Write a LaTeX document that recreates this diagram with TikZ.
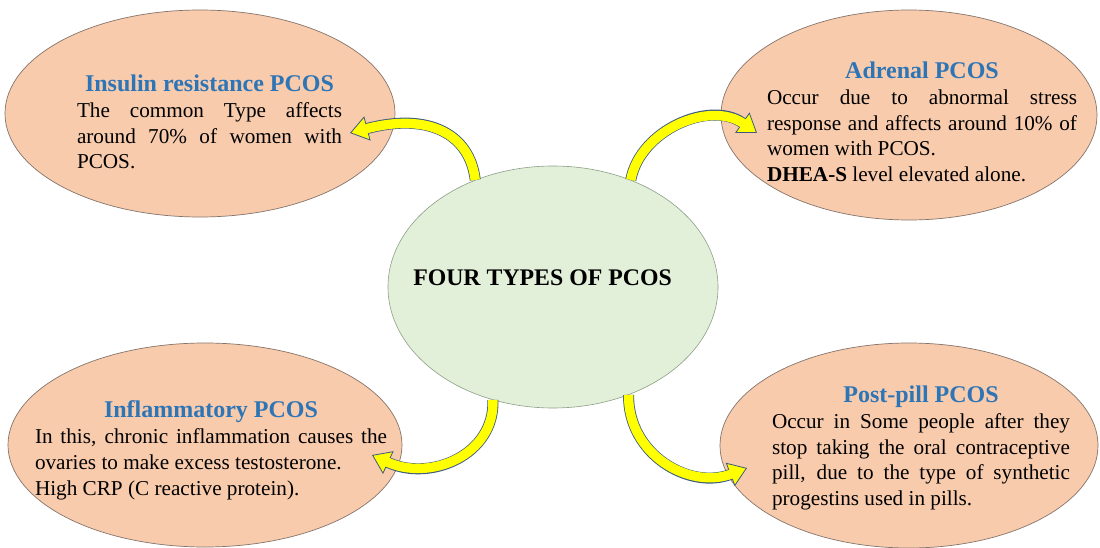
\documentclass[tikz,border=0pt]{standalone}
\usepackage{fontspec}
\setmainfont{Liberation Serif}
\usetikzlibrary{shapes.geometric,arrows.meta}
\definecolor{typefill}{HTML}{F8CBAD}
\definecolor{typeline}{HTML}{85746A}
\definecolor{corefill}{HTML}{E2F0D9}
\definecolor{coreline}{HTML}{8E9E88}
\definecolor{headblue}{HTML}{2E75B6}
\definecolor{arrowfill}{HTML}{FFFF00}
\definecolor{arrowline}{HTML}{3C5A80}
\tolerance=9999
\hbadness=10000
\newcommand{\typehead}[1]{{\centering\color{headblue}\bfseries\fontsize{24}{26}\selectfont #1\par}}
\tikzset{
  type/.style={ellipse, draw=typeline, fill=typefill, line width=0.7pt, inner sep=0pt},
  core/.style={ellipse, draw=coreline, fill=corefill, line width=0.6pt, inner sep=0pt},
  typetext/.style={anchor=north, inner sep=0pt, align=justify, font=\fontsize{21.2}{25.8}\selectfont},
  pcosarrow/.style={line width=11pt, draw=arrowline,
    -{Triangle[length=18pt,width=25pt,line width=0.8pt,fill=arrowfill]}},
  pcosbody/.style={line width=9.4pt, draw=arrowfill, shorten >=16pt}
}
\begin{document}
\begin{tikzpicture}[x=1pt,y=-1pt]
  \useasboundingbox[fill=white] (0,0) rectangle (1100,548);
  % the four types round the centre
  \node[type, minimum width=390pt, minimum height=207pt] (ins) at (200,113.5) {};
  \node[type, minimum width=376pt, minimum height=210pt] (adr) at (909,115) {};
  \node[type, minimum width=394pt, minimum height=204pt] (inf) at (205,445) {};
  \node[type, minimum width=378pt, minimum height=205pt] (pil) at (909,445.5) {};
  \node[core, minimum width=330pt, minimum height=242pt] (cen) at (553,287) {};
  % arrow tips end inside the outer ellipses
  \coordinate (insTip) at (350,133);
  \coordinate (adrTip) at (757,133);
  \coordinate (infTip) at (372,455);
  \coordinate (pilTip) at (747,468);
  \foreach \ang/\ax/\ay/\bx/\by/\tip in {126/470/135/430/112/insTip,
      54/640/130/710/100/adrTip, 242/495/455/430/482/infTip,
      305/628/455/690/490/pilTip} {
    \draw[pcosarrow] (cen.\ang) .. controls (\ax,\ay) and (\bx,\by) .. (\tip);
    \draw[pcosbody] (cen.\ang) .. controls (\ax,\ay) and (\bx,\by) .. (\tip);
  }
  \node[font=\bfseries\fontsize{23.8}{26}\selectfont, anchor=base, inner sep=0pt] (coreText)
    at (542.5,285) {FOUR TYPES OF PCOS};
  \node[typetext, text width=265pt] (insText) at (209.5,74.7)
    {\typehead{Insulin resistance PCOS}The common Type affects\linebreak
     around 70\% of women with\linebreak PCOS.};
  \node[typetext, text width=310pt] (adrText) at (922,61.7)
    {\typehead{Adrenal PCOS}Occur due to abnormal stress\linebreak
     response and affects around 10\% of\linebreak women with PCOS.\par
     \textbf{DHEA-S} level elevated alone.};
  \node[typetext, text width=352pt] (infText) at (211,400.7)
    {\typehead{Inflammatory PCOS}In this, chronic inflammation causes the\linebreak
     ovaries to make excess testosterone.\par High CRP (C reactive protein).};
  \node[typetext, text width=298pt] (pilText) at (921,385.7)
    {\typehead{Post-pill PCOS}Occur in Some people after they\linebreak
     stop taking the oral contraceptive\linebreak pill, due to the type of synthetic\linebreak
     progestins used in pills.};
\end{tikzpicture}
\end{document}
